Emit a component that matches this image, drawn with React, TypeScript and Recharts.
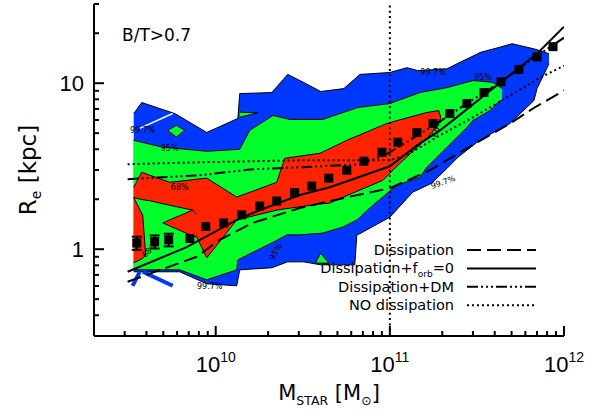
import {
  ComposedChart,
  Area,
  Line,
  Scatter,
  XAxis,
  YAxis,
  ReferenceLine,
  ErrorBar,
  Legend,
  Customized,
} from "recharts";

// axis ticks
const X_TICKS = [
  2e9, 3e9, 4e9, 5e9, 6e9, 7e9, 8e9, 9e9,
  1e10, 2e10, 3e10, 4e10, 5e10, 6e10, 7e10, 8e10, 9e10,
  1e11, 2e11, 3e11, 4e11, 5e11, 6e11, 7e11, 8e11, 9e11,
  1e12,
];
const X_MAJOR = [1e10, 1e11, 1e12];
const X_EXP = ["10", "11", "12"];
const Y_TICKS = [0.3, 0.4, 0.5, 0.6, 0.7, 0.8, 0.9, 1, 2, 3, 4, 5, 6, 7, 8, 9, 10, 20, 30];
const Y_MAJOR = [1, 10];
const Y_LABELS = ["1", "10"];

// 99.7% contour (blue)
const blueMass = [3.38e9, 3.42e9, 3.76e9, 5.81e9, 6.21e9, 8.88e9, 1.32e10, 1.34e10, 1.374e10, 2.1e10, 2.59e10, 3.2e10, 4.01e10, 5.44e10, 6.29e10, 6.46e10, 6.72e10, 1e11, 1.253e11, 1.356e11, 1.449e11, 1.74e11, 2.13e11, 2.46e11, 3.16e11, 3.29e11, 4.12e11, 4.9e11, 5.02e11, 6.72e11, 7.0e11, 8.2e11];
const blueLow = [0.731, 0.731, 0.731, 0.731, 0.731, 0.619, 0.602, 0.654, 0.751, 0.773, 0.839, 0.839, 0.805, 0.805, 0.805, 1.22, 1.24, 1.56, 2.02, 2.21, 2.28, 2.5, 3.07, 3.58, 4.4, 4.51, 5.2, 5.72, 5.88, 7.86, 9.28, 13.1];
const blueHigh = [6.66, 6.66, 7.65, 6.57, 6.31, 5.05, 6.09, 6.13, 8.66, 8.78, 11.3, 10.1, 8.91, 9.28, 10.6, 10.86, 11.3, 11.6, 12.4, 12.13, 11.9, 12.05, 12.2, 13.17, 14.95, 15.3, 16.3, 17.14, 17.3, 16.1, 15.9, 15.05];

// 95% contour (green)
const greenMass = [3.38e9, 4.96e9, 6.21e9, 8.88e9, 1.32e10, 1.34e10, 1.374e10, 1.568e10, 2.13e10, 2.56e10, 2.66e10, 3.04e10, 4.12e10, 5.37e10, 6.46e10, 6.55e10, 7.98e10, 1e11, 1.097e11, 1.486e11, 1.63e11, 2.13e11, 2.77e11, 3.0e11, 3.21e11, 3.76e11, 3.91e11, 4.29e11, 4.4e11];
const greenLow = [0.751, 0.751, 0.751, 0.654, 0.751, 0.863, 0.875, 0.938, 1.1, 1.22, 1.22, 1.22, 1.25, 1.36, 1.5, 1.52, 1.84, 2.24, 2.43, 2.71, 3.12, 4.11, 5.41, 5.97, 6.21, 6.85, 7.14, 7.86, 7.86];
const greenHigh = [4.53, 4.11, 4.03, 3.89, 3.99, 3.99, 4.0, 5.2, 6.39, 6.11, 6.05, 6.05, 6.05, 6.65, 7.11, 7.14, 7.33, 7.54, 7.82, 8.78, 8.94, 9.41, 10.14, 10.37, 10.32, 10.15, 10.1, 9.48, 9.28];

// 68% contour (red)
const redMass = [3.38e9, 3.76e9, 4.18e9, 4.96e9, 5.44e9, 7.38e9, 7.78e9, 8.88e9, 1.32e10, 2.24e10, 2.49e10, 3.96e10, 4.52e10, 5.66e10, 6.13e10, 9.12e10, 9.61e10, 1.142e11, 1.63e11, 1.887e11, 1.91e11, 1.96e11];
const redLow = [2.05, 1.99, 1.96, 1.88, 1.84, 1.72, 1.18, 0.887, 1.5, 1.72, 1.75, 1.87, 1.9, 2.1, 2.18, 2.6, 2.75, 3.29, 4.65, 5.57, 5.78, 6.22];
const redHigh = [2.36, 2.91, 2.79, 2.62, 2.53, 2.62, 2.64, 2.68, 2.06, 2.53, 3.53, 3.78, 4.04, 4.53, 4.69, 5.59, 5.72, 6.02, 6.66, 6.83, 6.85, 6.22];
const tongueMass = [4.96e9, 7.38e9, 7.78e9];
const tongueLow = [1.44, 1.2, 1.18];
const tongueHigh = [1.44, 1.72, 1.61];
const blobMass = [3.38e9, 3.81e9, 3.96e9];
const blobLow = [0.828, 0.88, 0.925];
const blobHigh = [2.05, 1.6, 0.925];

// small green islands inside the blue contour
const isleAMass = [5.3e9, 5.94e9, 6.63e9];
const isleALow = [5.2, 4.74, 5.2];
const isleAHigh = [5.2, 5.57, 5.2];
const isleBMass = [1.374e10, 1.75e10];
const isleBLow = [6.24, 6.63];
const isleBHigh = [6.69, 6.63];
const isleCMass = [3.74e10, 4.0e10, 4.46e10];
const isleCLow = [0.824, 0.824, 0.824];
const isleCHigh = [0.824, 0.946, 0.824];

// thin contour slivers (lower left strips, white gap in the blue)
const stripAMass = [3.33e9, 3.66e9];
const stripARe = [0.602, 0.731];
const stripBMass = [3.81e9, 5.66e9];
const stripBRe = [0.731, 0.602];
const gapMass = [3.66e9, 5.66e9];
const gapRe = [5.34, 6.57];

// model curves
const dissMass = [3.12e9, 7.78e9, 1.054e10, 1.63e10, 3.04e10, 5.37e10, 1e11, 1.698e11, 2.77e11, 4.9e11, 6.63e11, 1e12];
const dissRe = [0.637, 0.9, 1.14, 1.44, 1.77, 2.03, 2.33, 2.99, 4.05, 5.72, 7.04, 9.03];
const forbMass = [3.12e9, 6.81e9, 1.32e10, 1.79e10, 3.04e10, 4.52e10, 1e11, 1.43e11, 1.94e11, 2.3e11, 4.46e11, 7.0e11, 1e12];
const forbRe = [0.731, 1.03, 1.5, 1.72, 2.12, 2.36, 3.16, 4.22, 5.2, 5.97, 10.37, 15.05, 21.9];
const dmMass = [3.12e9, 8.09e9, 1.63e10, 3.16e10, 6.72e10, 9.36e10, 1.3e11, 1.94e11, 2.88e11, 4.29e11, 6.38e11, 1e12];
const dmRe = [2.64, 2.79, 3.03, 3.12, 3.25, 3.68, 4.53, 5.88, 7.76, 10.1, 13.7, 18.8];
const noDissMass = [3.12e9, 8.09e9, 3.04e10, 1e11, 1.3e11, 1.94e11, 3.0e11, 4.7e11, 7.28e11, 1e12];
const noDissRe = [3.25, 3.34, 3.43, 3.43, 3.78, 4.85, 6.22, 8.2, 10.8, 12.75];

// binned medians
const binMass = [3.52e9, 4.46e9, 5.37e9, 7.1e9, 8.77e9, 1.11e10, 1.41e10, 1.79e10, 2.24e10, 2.84e10, 3.56e10, 4.46e10, 5.66e10, 7.1e10, 9.0e10, 1.11e11, 1.43e11, 1.77e11, 2.21e11, 2.77e11, 3.47e11, 4.35e11, 5.51e11, 7.0e11, 8.65e11];
const binRe = [1.09, 1.11, 1.14, 1.16, 1.37, 1.44, 1.61, 1.82, 1.95, 2.19, 2.4, 2.68, 2.99, 3.39, 3.84, 4.41, 5.05, 5.72, 6.57, 7.55, 8.79, 10.2, 12.1, 14.4, 16.6];
const binErr = [0.1, 0.1, 0.1];

// contour labels
const labelMass = [3.81e9, 5.44e9, 6.21e9, 4.18e9, 9.24e9, 2.21e10, 1.77e11, 3.42e11, 2.02e11, 1.86e11];
const labelRe = [5.2, 4.05, 2.36, 0.99, 0.6, 0.963, 11.6, 10.8, 2.53, 5.34];
const labelText = ["99.7%", "95%", "68%", "68%", "99.7%", "95%", "99.7%", "95%", "99.7%", "68%"];
const labelAngle = [0, 0, 0, -45, 0, -60, 0, 0, -20, -75];

const legendText = ["Dissipation", "Dissipation+f", "Dissipation+DM", "NO dissipation"];
const legendSub = ["", "orb", "", ""];
const legendTail = ["", "=0", "", ""];
const legendDash = ["14 6", undefined, "11 3 2 3 2 3 2 3", "2 3"];

const BLUE = "#0037ff";
const GREEN = "#00ff2b";
const RED = "#ff2300";
const TICK_FONT = "Liberation Sans, Arial, sans-serif";
const TEXT_FONT = "DejaVu Sans, sans-serif";

const band = (mass: number[], low: number[], high: number[]) =>
  mass.map((x, i) => ({ x, band: [low[i], high[i]] }));
const pts = (mass: number[], re: number[]) =>
  mass.map((x, i) => ({ x, y: re[i] }));

const areas = [
  { data: band(blueMass, blueLow, blueHigh), fill: BLUE },
  { data: band(greenMass, greenLow, greenHigh), fill: GREEN },
  { data: band(isleAMass, isleALow, isleAHigh), fill: GREEN },
  { data: band(isleBMass, isleBLow, isleBHigh), fill: GREEN },
  { data: band(isleCMass, isleCLow, isleCHigh), fill: GREEN },
  { data: band(redMass, redLow, redHigh), fill: RED },
  { data: band(tongueMass, tongueLow, tongueHigh), fill: RED },
  { data: band(blobMass, blobLow, blobHigh), fill: RED },
];

const slivers = [
  { data: pts(stripAMass, stripARe), color: BLUE, width: 4 },
  { data: pts(stripBMass, stripBRe), color: BLUE, width: 4 },
  { data: pts(gapMass, gapRe), color: "#ffffff", width: 1.5 },
];

const curves = [
  { data: pts(dissMass, dissRe), dash: legendDash[0] },
  { data: pts(forbMass, forbRe), dash: legendDash[1] },
  { data: pts(dmMass, dmRe), dash: legendDash[2] },
  { data: pts(noDissMass, noDissRe), dash: legendDash[3] },
];

const binsWithErr = binErr.map((err, i) => ({ x: binMass[i], y: binRe[i], err }));
const binsRest = pts(binMass.slice(binErr.length), binRe.slice(binErr.length));
const labels = labelMass.map((x, i) => ({ x, y: labelRe[i], text: labelText[i], angle: labelAngle[i] }));

function BottomTick({ x, y, payload }: any) {
  const i = X_MAJOR.indexOf(payload.value);
  const len = i >= 0 ? 10 : 5;
  return (
    <g>
      <line x1={x} y1={y} x2={x} y2={y - len} stroke="#000" strokeWidth={2} />
      {i >= 0 && (
        <text x={x} y={y + 36} textAnchor="middle" fontSize={22} fontFamily={TICK_FONT} fill="#000">
          10
          <tspan dy={-10} fontSize={14}>
            {X_EXP[i]}
          </tspan>
        </text>
      )}
    </g>
  );
}

function TopTick({ x, y, payload }: any) {
  const len = X_MAJOR.includes(payload.value) ? 10 : 5;
  return <line x1={x} y1={y} x2={x} y2={y + len} stroke="#000" strokeWidth={2} />;
}

function LeftTick({ x, y, payload }: any) {
  const i = Y_MAJOR.indexOf(payload.value);
  const len = i >= 0 ? 10 : 5;
  return (
    <g>
      <line x1={x} y1={y} x2={x + len} y2={y} stroke="#000" strokeWidth={2} />
      {i >= 0 && (
        <text x={x - 10} y={y + 8} textAnchor="end" fontSize={22} fontFamily={TICK_FONT} fill="#000">
          {Y_LABELS[i]}
        </text>
      )}
    </g>
  );
}

function RightTick({ x, y, payload }: any) {
  const len = Y_MAJOR.includes(payload.value) ? 10 : 5;
  return <line x1={x} y1={y} x2={x - len} y2={y} stroke="#000" strokeWidth={2} />;
}

function XTitle({ viewBox }: any) {
  const cx = viewBox.x + viewBox.width / 2;
  return (
    <text x={cx} y={400} textAnchor="middle" fontSize={21} fontFamily={TEXT_FONT} fill="#000">
      M
      <tspan dy={5} fontSize={12.5}>STAR</tspan>
      <tspan dy={-5}> [M</tspan>
      <tspan dy={5} fontSize={12.5}>⊙</tspan>
      <tspan dy={-5}>]</tspan>
    </text>
  );
}

function YTitle() {
  return (
    <text
      x={36}
      y={170}
      transform="rotate(-90, 36, 170)"
      textAnchor="middle"
      fontSize={23}
      fontFamily={TEXT_FONT}
      fill="#000"
    >
      R
      <tspan dy={5} fontSize={14}>e</tspan>
      <tspan dy={-5}> [kpc]</tspan>
    </text>
  );
}

function BTLabel() {
  return (
    <text x={122} y={41} fontSize={17} fontFamily={TEXT_FONT} fill="#000">
      B/T&gt;0.7
    </text>
  );
}

function LegendBox() {
  return (
    <svg width={608} height={413} style={{ position: "absolute", left: 0, top: 0 }}>
      {legendText.map((t, i) => (
        <g key={t}>
          <text x={454} y={255 + i * 18.4} textAnchor="end" fontSize={14.5} fontFamily={TEXT_FONT} fill="#000">
            {t}
            {legendSub[i] && (
              <tspan dy={4} fontSize={9}>
                {legendSub[i]}
              </tspan>
            )}
            {legendTail[i] && <tspan dy={-4}>{legendTail[i]}</tspan>}
          </text>
          <line
            x1={467}
            x2={536}
            y1={250 + i * 18.4}
            y2={250 + i * 18.4}
            stroke="#000"
            strokeWidth={2}
            strokeDasharray={legendDash[i]}
          />
        </g>
      ))}
    </svg>
  );
}

const Square = (p: any) => <rect x={p.cx - 4.5} y={p.cy - 4.5} width={9} height={9} fill="#000" />;

const ContourLabel = (p: any) => (
  <text
    x={p.cx}
    y={p.cy}
    textAnchor="middle"
    dominantBaseline="central"
    fontSize={8}
    fontFamily={TEXT_FONT}
    fill="#000"
    transform={`rotate(${p.payload.angle}, ${p.cx}, ${p.cy})`}
  >
    {p.payload.text}
  </text>
);

export default function App() {
  return (
    <div style={{ position: "absolute", left: 0, top: 0, width: 608, height: 413, background: "#fff" }}>
      <ComposedChart width={608} height={413} margin={{ top: 4, right: 44, bottom: 0, left: 0 }}>
        <XAxis
          dataKey="x"
          type="number"
          scale="log"
          domain={[2e9, 1e12]}
          allowDataOverflow
          ticks={X_TICKS}
          interval={0}
          height={77}
          tickSize={0}
          tickMargin={0}
          tickLine={false}
          axisLine={{ stroke: "#000", strokeWidth: 2 }}
          tick={(p: any) => <BottomTick {...p} />}
          label={(p: any) => <XTitle {...p} />}
        />
        <XAxis
          xAxisId="top"
          orientation="top"
          dataKey="x"
          type="number"
          scale="log"
          domain={[2e9, 1e12]}
          allowDataOverflow
          ticks={X_TICKS}
          interval={0}
          height={0}
          tickSize={0}
          tickMargin={0}
          tickLine={false}
          axisLine={{ stroke: "#000", strokeWidth: 2 }}
          tick={(p: any) => <TopTick {...p} />}
        />
        <YAxis
          dataKey="y"
          type="number"
          scale="log"
          domain={[0.3, 30]}
          allowDataOverflow
          ticks={Y_TICKS}
          interval={0}
          width={94}
          tickSize={0}
          tickMargin={0}
          tickLine={false}
          axisLine={{ stroke: "#000", strokeWidth: 2 }}
          tick={(p: any) => <LeftTick {...p} />}
          label={() => <YTitle />}
        />
        <YAxis
          yAxisId="right"
          orientation="right"
          type="number"
          scale="log"
          domain={[0.3, 30]}
          allowDataOverflow
          ticks={Y_TICKS}
          interval={0}
          width={0}
          tickSize={0}
          tickMargin={0}
          tickLine={false}
          axisLine={{ stroke: "#000", strokeWidth: 2 }}
          tick={(p: any) => <RightTick {...p} />}
        />

        {areas.map((a, i) => (
          <Area
            key={`area-${i}`}
            data={a.data}
            dataKey="band"
            type="linear"
            fill={a.fill}
            fillOpacity={1}
            stroke="#000"
            strokeWidth={1}
            dot={false}
            activeDot={false}
            isAnimationActive={false}
          />
        ))}

        {slivers.map((s, i) => (
          <Line
            key={`sliver-${i}`}
            data={s.data}
            dataKey="y"
            type="linear"
            stroke={s.color}
            strokeWidth={s.width}
            dot={false}
            activeDot={false}
            isAnimationActive={false}
          />
        ))}

        <ReferenceLine x={1e11} stroke="#000" strokeWidth={2} strokeDasharray="2 3.3" />

        {curves.map((c, i) => (
          <Line
            key={`curve-${i}`}
            data={c.data}
            dataKey="y"
            type="linear"
            stroke="#000"
            strokeWidth={2}
            strokeDasharray={c.dash}
            dot={false}
            activeDot={false}
            isAnimationActive={false}
          />
        ))}

        <Scatter data={binsWithErr} dataKey="y" shape={Square} isAnimationActive={false}>
          <ErrorBar dataKey="err" direction="y" width={5} stroke="#000" strokeWidth={2} isAnimationActive={false} />
        </Scatter>
        <Scatter data={binsRest} dataKey="y" shape={Square} isAnimationActive={false} />
        <Scatter data={labels} dataKey="y" shape={ContourLabel} isAnimationActive={false} />

        <Customized component={BTLabel} />
        <Legend
          layout="horizontal"
          verticalAlign="middle"
          align="center"
          content={() => <LegendBox />}
          wrapperStyle={{ left: 0, top: 0, width: 608, height: 413, pointerEvents: "none" }}
        />
      </ComposedChart>
    </div>
  );
}
